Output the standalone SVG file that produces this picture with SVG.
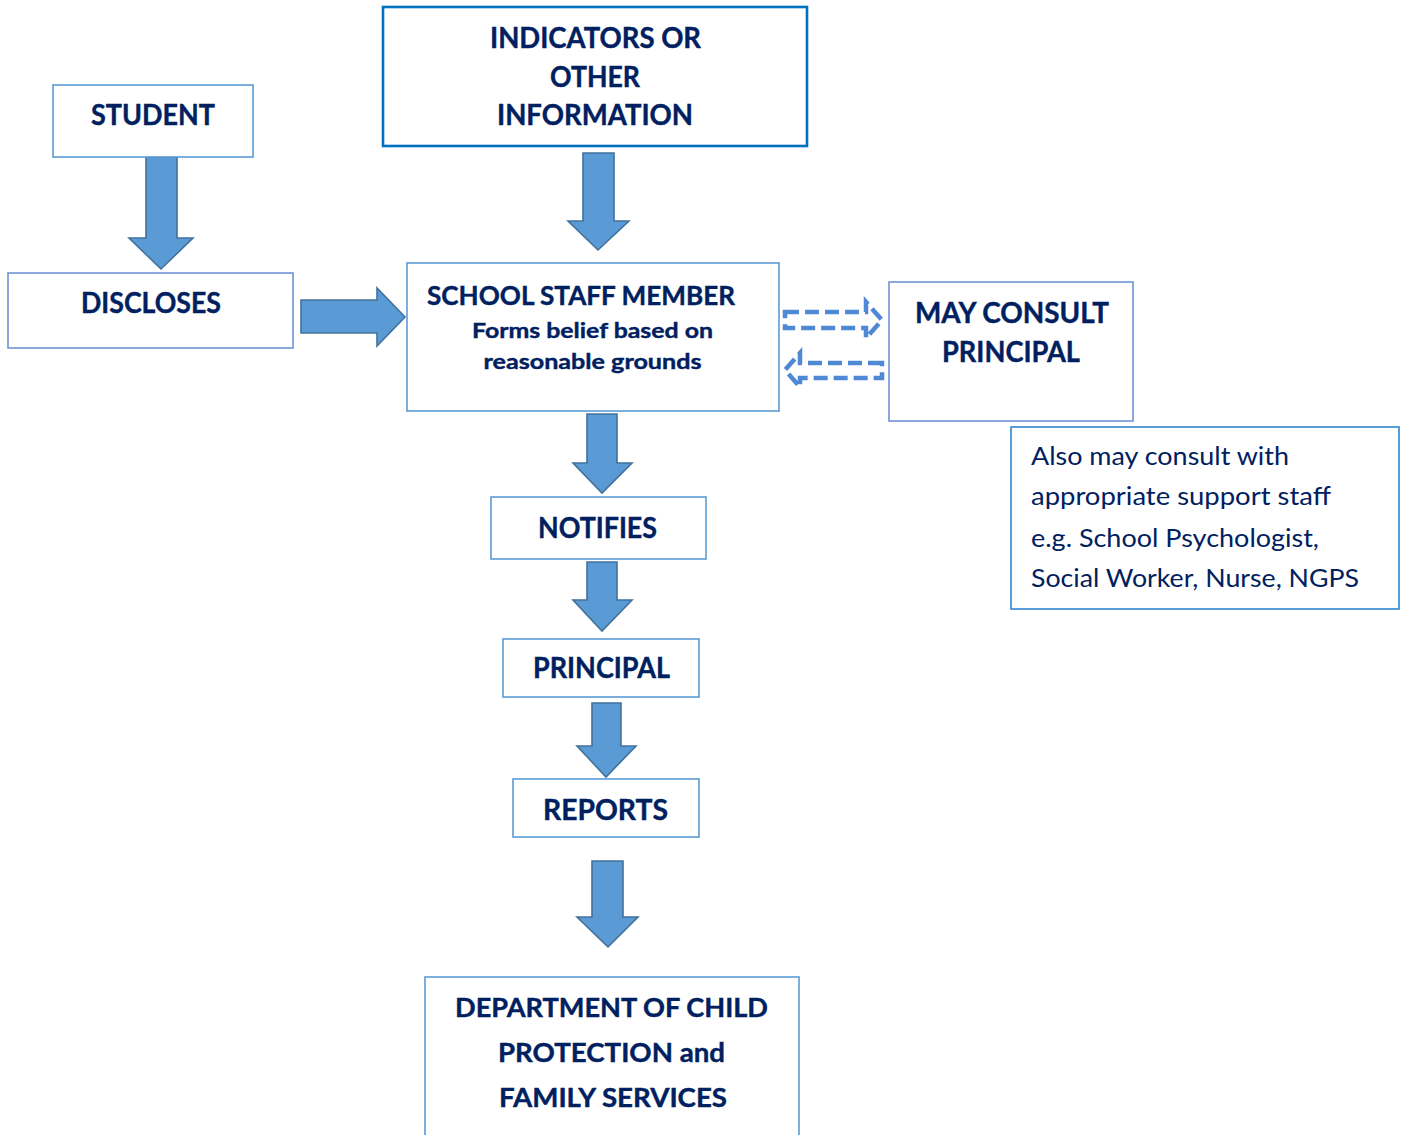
<svg xmlns="http://www.w3.org/2000/svg" width="1404" height="1135" viewBox="0 0 1404 1135">
<style>
.box{fill:#fff;stroke:#5b9bd5;stroke-width:1.6}
.boxb{fill:#fff;stroke:#0070c0;stroke-width:2.6}
.t{font-family:Lato,"Open Sans","Liberation Sans",sans-serif;font-weight:bold;fill:#002060;text-anchor:middle;stroke:#002060;stroke-width:0.4}
.n{font-family:Lato,"Open Sans","Liberation Sans",sans-serif;fill:#002060;font-size:25px}
.arr{fill:#5b9bd5;stroke:#41719c;stroke-width:1.6;stroke-linejoin:miter}
.dash{fill:none;stroke:#4f88d4;stroke-width:4.5;stroke-dasharray:14 6}
</style>
<rect width="1404" height="1135" fill="#fff"/>
<g id="connectors">
<path class="arr" d="M146,157 H177 V238 H193 L161,269 L129,238 H146 Z"/>
<path class="arr" d="M583,153 H614 V221 H629 L598,250 L568,221 H583 Z"/>
<path class="arr" d="M301,300 H377 V288 L405,317 L377,346 V333 H301 Z"/>
<path class="arr" d="M587,414 H617 V463 H632 L602,493 L573,463 H587 Z"/>
<path class="arr" d="M587,562 H617 V600 H632 L602,631 L573,600 H587 Z"/>
<path class="arr" d="M592,703 H621 V746 H636 L606,777 L577,746 H592 Z"/>
<path class="arr" d="M592,861 H623 V917 H638 L608,947 L577,917 H592 Z"/>
<path class="dash" d="M785,312 H866 V302 L882,320 L866,338 V328 H785 Z"/>
<path class="dash" d="M882,363 H800 V353 L785,370 L800,387 V378 H882 Z"/>
</g>
<g id="indicators">
<rect class="boxb" x="383" y="7" width="424" height="139"/>
<text class="t" font-size="28" x="595.5" y="48" textLength="211" lengthAdjust="spacingAndGlyphs">INDICATORS OR</text>
<text class="t" font-size="28" x="595" y="87" textLength="90" lengthAdjust="spacingAndGlyphs">OTHER</text>
<text class="t" font-size="28" x="595" y="125" textLength="196" lengthAdjust="spacingAndGlyphs">INFORMATION</text>
</g>
<g id="student">
<rect class="box" x="53" y="85" width="200" height="72"/>
<text class="t" font-size="28" x="153" y="125" textLength="124" lengthAdjust="spacingAndGlyphs">STUDENT</text>
</g>
<g id="discloses">
<rect class="box" x="8" y="273" width="285" height="75" style="stroke:#6f94d6"/>
<text class="t" font-size="28" x="151" y="313" textLength="140" lengthAdjust="spacingAndGlyphs">DISCLOSES</text>
</g>
<g id="staff">
<rect class="box" x="407" y="263" width="372" height="148"/>
<text class="t" font-size="26" x="581" y="305" textLength="308" lengthAdjust="spacingAndGlyphs">SCHOOL STAFF MEMBER</text>
<text class="t" font-size="21" x="592.5" y="338" textLength="241" lengthAdjust="spacingAndGlyphs">Forms belief based on</text>
<text class="t" font-size="21" x="592.5" y="369" textLength="218" lengthAdjust="spacingAndGlyphs">reasonable grounds</text>
</g>
<g id="mayconsult">
<rect class="box" x="889" y="282" width="244" height="139" style="stroke:#6f94d6"/>
<text class="t" font-size="28" x="1012" y="323" textLength="194" lengthAdjust="spacingAndGlyphs">MAY CONSULT</text>
<text class="t" font-size="28" x="1011" y="362" textLength="138" lengthAdjust="spacingAndGlyphs">PRINCIPAL</text>
</g>
<g id="note">
<rect class="box" x="1011" y="427" width="388" height="182" style="stroke:#2e85d0"/>
<text class="n" x="1031" y="465" textLength="258" lengthAdjust="spacingAndGlyphs">Also may consult with</text>
<text class="n" x="1031" y="505" textLength="300" lengthAdjust="spacingAndGlyphs">appropriate support staff</text>
<text class="n" x="1031" y="547" textLength="288" lengthAdjust="spacingAndGlyphs">e.g. School Psychologist,</text>
<text class="n" x="1031" y="587" textLength="328" lengthAdjust="spacingAndGlyphs">Social Worker, Nurse, NGPS</text>
</g>
<g id="notifies">
<rect class="box" x="491" y="497" width="215" height="62"/>
<text class="t" font-size="28" x="597.5" y="538" textLength="119" lengthAdjust="spacingAndGlyphs">NOTIFIES</text>
</g>
<g id="principal">
<rect class="box" x="503" y="639" width="196" height="58"/>
<text class="t" font-size="28" x="601.5" y="678" textLength="137" lengthAdjust="spacingAndGlyphs">PRINCIPAL</text>
</g>
<g id="reports">
<rect class="box" x="513" y="779" width="186" height="58"/>
<text class="t" font-size="28" x="605.5" y="820" textLength="125" lengthAdjust="spacingAndGlyphs">REPORTS</text>
</g>
<g id="department">
<rect class="box" x="425" y="977" width="374" height="170"/>
<text class="t" font-size="26" x="611.5" y="1017" textLength="313" lengthAdjust="spacingAndGlyphs">DEPARTMENT OF CHILD</text>
<text class="t" font-size="26" x="611.5" y="1062" textLength="227" lengthAdjust="spacingAndGlyphs">PROTECTION and</text>
<text class="t" font-size="26" x="613" y="1107" textLength="228" lengthAdjust="spacingAndGlyphs">FAMILY SERVICES</text>
</g>
</svg>
